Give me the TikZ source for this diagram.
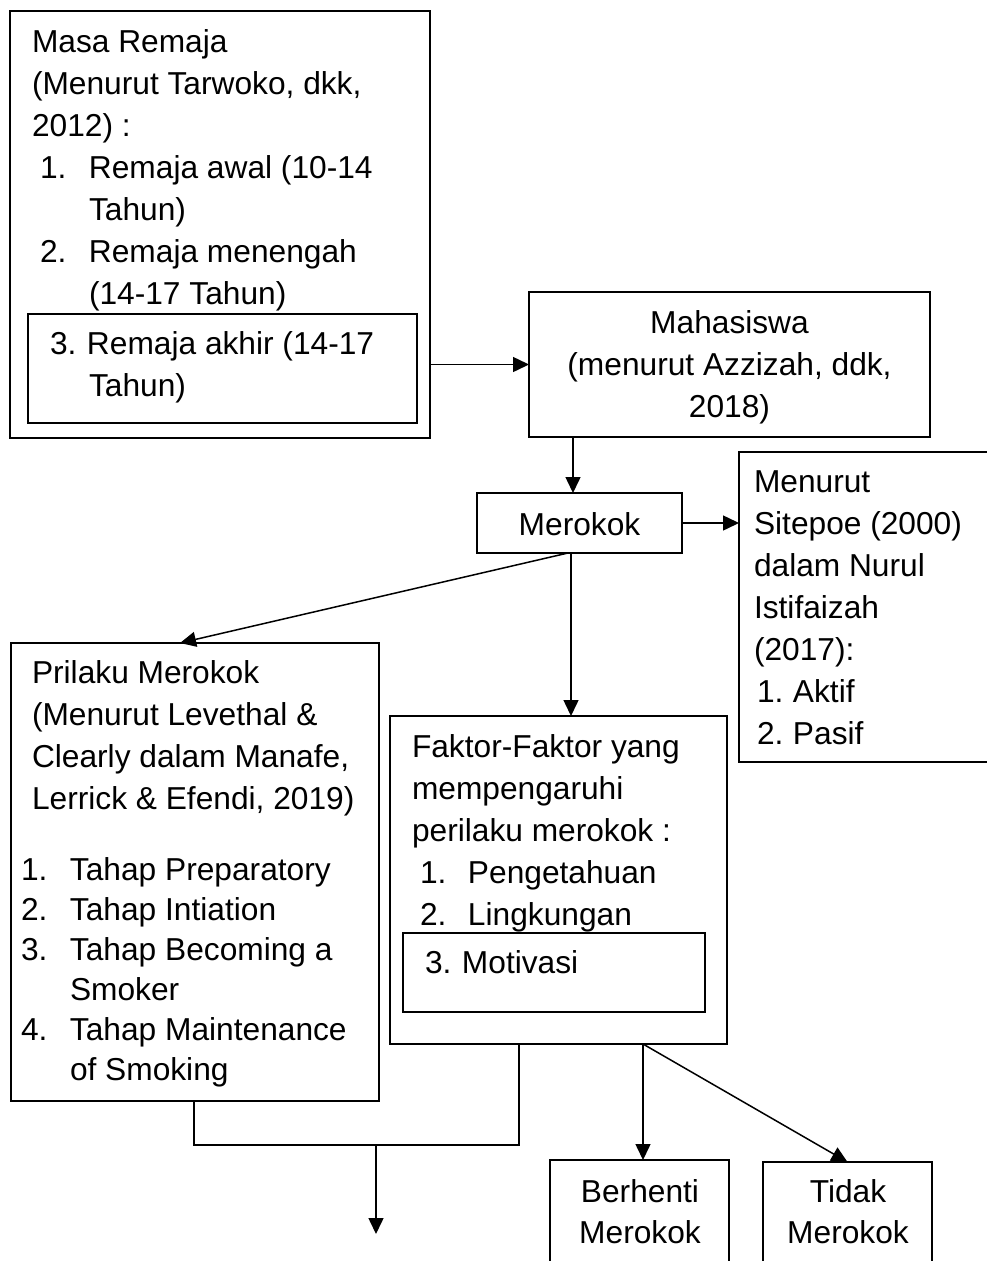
\documentclass[tikz,border=0pt]{standalone}
\usepackage{fontspec}
\setmainfont{Liberation Sans}
\usetikzlibrary{arrows.meta}
\newcommand\numbox[2]{\makebox[#1][l]{#2}}
\begin{document}
\begin{tikzpicture}[x=1pt,y=-1pt,
  box/.style={draw, line width=2pt, inner sep=0pt, outer sep=0pt, rectangle},
  inbox/.style={box, line width=2.4pt},
  txt/.style={anchor=north west, inner sep=0pt, outer sep=0pt, align=left, font=\fontsize{31.7}{42}\selectfont},
  ctxt/.style={anchor=north, inner sep=0pt, outer sep=0pt, align=center, font=\fontsize{31.7}{42}\selectfont},
  conn/.style={line width=1.5pt},
  arr/.style={conn, -{Triangle[length=16pt,width=15pt]}},
]
\useasboundingbox (0,0) rectangle (987,1261);
\clip (0,0) rectangle (987,1261);

% boxes
\node[box, minimum width=420pt, minimum height=427pt] (masa) at (220,224.5) {};
\node[inbox, minimum width=389pt, minimum height=109pt] (masain) at (222.5,368.5) {};
\node[box, minimum width=401pt, minimum height=145pt] (mah) at (729.5,364.5) {};
\node[box, minimum width=205pt, minimum height=60pt] (mer) at (579.5,523) {};
\node[box, minimum width=261pt, minimum height=310pt] (sit) at (869.5,607) {};
\node[box, minimum width=368pt, minimum height=458pt] (pri) at (195,872) {};
\node[box, minimum width=337pt, minimum height=328pt] (fak) at (558.5,880) {};
\node[inbox, minimum width=302pt, minimum height=79pt] (fakin) at (554,972.5) {};
\node[box, minimum width=179pt, minimum height=130pt] (ber) at (639.5,1225) {};
\node[box, minimum width=169pt, minimum height=128pt] (tid) at (847.5,1226) {};

% texts
\node[txt] (tmasa) at (32,30) {Masa Remaja\\
(Menurut Tarwoko, dkk,\\
2012) :\\
\hspace*{8pt}\numbox{49pt}{1.}Remaja awal (10-14\\
\hspace*{57pt}Tahun)\\
\hspace*{8pt}\numbox{49pt}{2.}Remaja menengah\\
\hspace*{57pt}(14-17 Tahun)};
\node[txt] (tmasain) at (32,332) {\hspace*{18pt}\numbox{37pt}{3.}Remaja akhir (14-17\\
\hspace*{57pt}Tahun)};
\node[ctxt] (tmah) at (729.5,311) {Mahasiswa\\(menurut Azzizah, ddk,\\2018)};
\node[ctxt] (tmer) at (579.5,513) {Merokok};
\node[txt] (tsit) at (754,471) {Menurut\\
Sitepoe (2000)\\
dalam Nurul\\
Istifaizah\\
(2017):\\
\hspace*{3pt}\numbox{36pt}{1.}Aktif\\
\hspace*{3pt}\numbox{36pt}{2.}Pasif};
\node[txt] (tprihead) at (32,661) {Prilaku Merokok\\
(Menurut Levethal \&\\
Clearly dalam Manafe,\\
Lerrick \& Efendi, 2019)};
\node[txt, font=\fontsize{31.7}{40}\selectfont] (tprilist) at (21,858) {\numbox{49pt}{1.}Tahap Preparatory\\
\numbox{49pt}{2.}Tahap Intiation\\
\numbox{49pt}{3.}Tahap Becoming a\\
\hspace*{49pt}Smoker\\
\numbox{49pt}{4.}Tahap Maintenance\\
\hspace*{49pt}of Smoking};
\node[txt] (tfak) at (412,735) {Faktor-Faktor yang\\
mempengaruhi\\
perilaku merokok :\\
\hspace*{8pt}\numbox{48pt}{1.}Pengetahuan\\
\hspace*{8pt}\numbox{48pt}{2.}Lingkungan};
\node[txt] (tfakin) at (412,951) {\hspace*{13pt}\numbox{37pt}{3.}Motivasi};
\node[ctxt, font=\fontsize{31.7}{41}\selectfont] (tber) at (640,1180) {Berhenti\\Merokok};
\node[ctxt, font=\fontsize{31.7}{41}\selectfont] (ttid) at (848,1180) {Tidak\\Merokok};

% helper coordinates
\coordinate (xa) at (573,0);
\coordinate (xb) at (568,0);
\coordinate (xc) at (180,0);
\coordinate (xd) at (571,0);
\coordinate (xe) at (643,0);
\coordinate (jl) at (194,1145);
\coordinate (jr) at (519,1145);
\coordinate (jm) at (376,1145);
\coordinate (out) at (376,1234);

% connectors
\draw[arr] (masa.east |- mah.west) -- (mah.west);
\draw[arr] (mah.south -| xa) -- (mer.north -| xa);
\draw[arr] (mer.east) -- (mer.east -| sit.west);
\draw[arr] (mer.south -| xb) -- (pri.north -| xc);
\draw[arr] (mer.south -| xd) -- (fak.north -| xd);
\draw[arr] (fak.south -| xe) -- (ber.north -| xe);
\draw[arr] (fak.south -| xe) -- (tid.north);
\draw[conn] (pri.south -| jl) -- (jl) -- (jr) -- (fak.south -| jr);
\draw[arr] (jm) -- (out);
\end{tikzpicture}
\end{document}
